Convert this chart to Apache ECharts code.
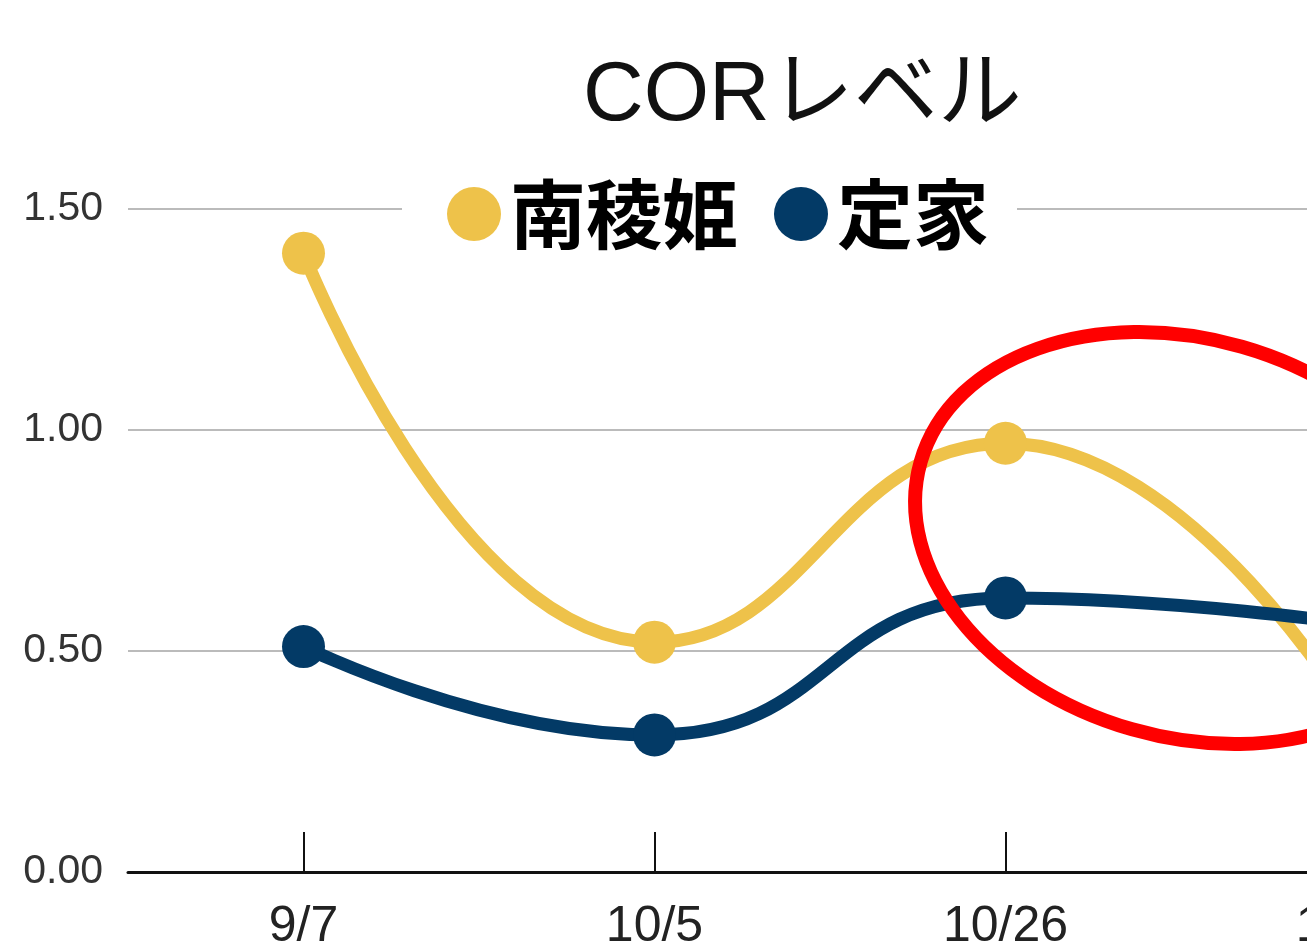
<!DOCTYPE html>
<html>
<head>
<meta charset="utf-8">
<script src="https://cdn.jsdelivr.net/npm/echarts@6/dist/echarts.min.js"></script>
<style>
  html, body { margin: 0; padding: 0; background: #fff; overflow: hidden; }
  #chart { width: 1600px; height: 952px; }
</style>
</head>
<body>
<div id="chart"></div>
<script>
// data
var categories = ['9/7', '10/5', '10/26', '11/16']
var nanryo = [1.40, 0.52, 0.97, 0.34]   // 南稜姫
var teika = [0.51, 0.31, 0.62, 0.56]    // 定家
var yTicks = [0, 0.5, 1.0, 1.5]

var chart = echarts.init(document.getElementById('chart'))

var option = {
    backgroundColor: '#fff',
    animation: false,
    title: {
        text: 'CORレベル',
        left: 578,
        top: 50,
        textStyle: {
            fontFamily: "'Liberation Sans', 'Noto Sans CJK JP'",
            fontSize: 84,
            fontWeight: 'normal',
            color: '#111'
        }
    },
    legend: {
        left: 402,
        top: 172,
        icon: 'circle',
        itemWidth: 54,
        itemHeight: 54,
        itemGap: 36,
        padding: [4, 28, 4, 45],
        backgroundColor: '#fff',
        textStyle: {
            fontFamily: 'Noto Sans CJK JP',
            fontSize: 76,
            fontWeight: 'bold',
            color: '#000',
            padding: [0, 0, 0, 4]
        },
        data: ['南稜姫', '定家']
    },
    grid: {
        left: 128,
        top: 209,
        width: 1404,
        height: 664
    },
    xAxis: {
        type: 'category',
        data: categories,
        boundaryGap: true,
        axisLine: { show: true, lineStyle: { color: '#111', width: 3 } },
        axisTick: {
            show: true,
            interval: 0,
            alignWithLabel: true,
            inside: true,
            length: 40,
            lineStyle: { color: '#111', width: 2 }
        },
        axisLabel: {
            margin: 30,
            fontFamily: 'Liberation Sans',
            fontSize: 50,
            color: '#222'
        }
    },
    yAxis: {
        type: 'value',
        min: yTicks[0],
        max: yTicks[yTicks.length - 1],
        interval: 0.5,
        axisLine: { show: false },
        axisTick: { show: false },
        splitLine: { lineStyle: { color: '#bbb', width: 2 } },
        axisLabel: {
            margin: 25,
            fontFamily: 'Liberation Sans',
            fontSize: 41,
            color: '#333',
            formatter: function (v) { return v.toFixed(2) }
        }
    },
    series: [
        {
            name: '南稜姫',
            type: 'line',
            data: nanryo,
            smooth: 0.5,
            symbol: 'circle',
            symbolSize: 43,
            itemStyle: { color: '#EEC24A' },
            lineStyle: { width: 13, color: '#EEC24A' },
            z: 2
        },
        {
            name: '定家',
            type: 'line',
            data: teika,
            smooth: 0.5,
            symbol: 'circle',
            symbolSize: 43,
            itemStyle: { color: '#033A66' },
            lineStyle: { width: 13, color: '#033A66' },
            z: 3
        }
    ],
    graphic: [
        {
            // red hand-drawn annotation ring
            type: 'ellipse',
            x: 1187,
            y: 538,
            rotation: -16 * Math.PI / 180,
            shape: { cx: 0, cy: 0, rx: 277, ry: 199 },
            style: { fill: 'none', stroke: '#FF0000', lineWidth: 14 },
            z: 100
        }
    ]
}

chart.setOption(option)
</script>
</body>
</html>
